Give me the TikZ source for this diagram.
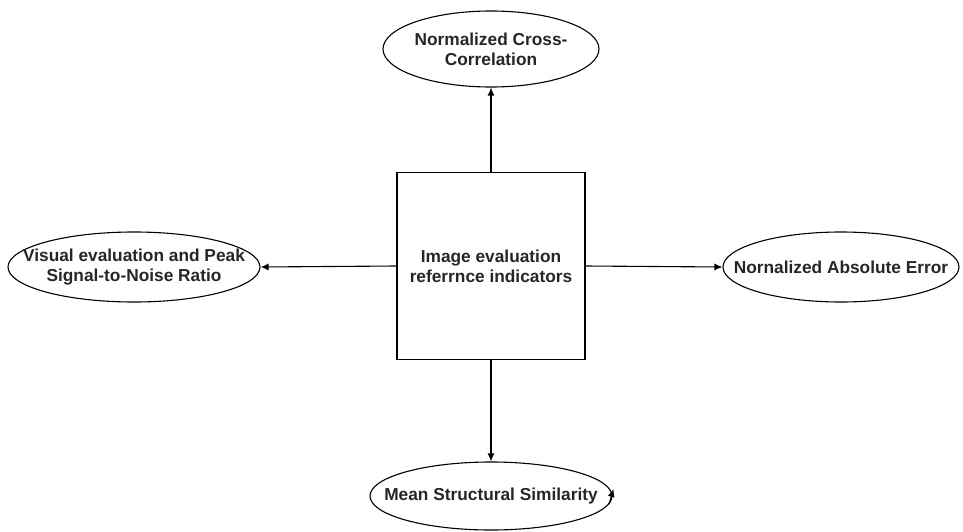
\documentclass[tikz,border=0pt]{standalone}
\usepackage{fontspec}
\setmainfont{Liberation Sans}
\usetikzlibrary{shapes.geometric,arrows.meta}
\begin{document}
\begin{tikzpicture}[x=1pt,y=-1pt,
  txt/.style={font=\bfseries\fontsize{17.3}{20}\selectfont,align=center,text=black!85},
  oval/.style={ellipse,draw,line width=1.1pt,inner sep=0pt},
  hub/.style={rectangle,draw,line width=1.1pt,minimum width=188pt,minimum height=187pt},
  arr/.style={line width=1.1pt,-{Latex[length=8pt,width=7pt]}}]
\useasboundingbox (0,0) rectangle (963,532);
% centre block
\node[hub] (box) at (491,266) {};
\node[txt] (boxt) at (box.center) {Image evaluation\\referrnce indicators};
% outer ovals, drawn empty so their size stays fixed; the text sits on top
\node[oval,minimum width=216pt,minimum height=76pt] (ncc) at (491,49) {};
\node[txt] (ncct) at (ncc.center) {Normalized Cross-\\Correlation};
\node[oval,minimum width=252pt,minimum height=70pt] (vis) at (134,267) {};
\node[txt] (vist) at (vis.center) {Visual evaluation and Peak\\Signal-to-Noise Ratio};
\node[oval,minimum width=236pt,minimum height=70pt] (nae) at (841,267) {};
\node[txt] (naet) at (nae.center) {Nornalized Absolute Error};
\node[oval,minimum width=242pt,minimum height=68pt] (mss) at (491,496) {};
\node[txt] (msst) at (mss.center) {Mean Structural Similarity};
% connectors
\draw[arr] (box.north) -- (ncc.south);
\draw[arr] (box.west) -- (vis.east);
\draw[arr] (box.east) -- (nae.west);
\draw[arr] (box.south) -- (mss.north);
% small arrow head riding on the right edge of the bottom oval
\coordinate (hook) at (613.5,489);
\draw[arr] (mss.-4) -- (hook);
\end{tikzpicture}
\end{document}
